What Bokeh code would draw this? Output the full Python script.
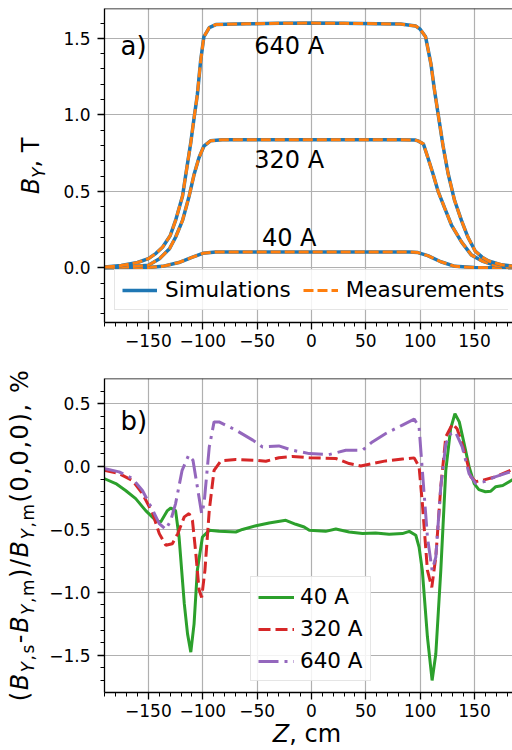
import math
from bokeh.plotting import figure
from bokeh.models import (Range1d, FixedTicker, CustomJSTickFormatter, Label,
                          Legend, LegendItem, Span, ColumnDataSource, Div)
from bokeh.layouts import column, row
from bokeh.embed import file_html
from bokeh.resources import INLINE
from bokeh.core.properties import value

# ---------------- data: panel a) ----------------
zt640 = [-190, -175, -160, -150, -143, -137, -130, -125, -118.6, -115.6, -111, -108, -105, -102, -99, -94, -88,
         -60, -30, 0, 30, 60, 82, 96, 100, 105, 110, 113, 116, 121, 125.6, 131.7, 138, 144, 150.6, 157, 163, 175, 187]
Bt640 = [0.005, 0.015, 0.035, 0.06, 0.095, 0.135, 0.21, 0.31, 0.47, 0.61, 0.82, 0.98, 1.13, 1.35, 1.51, 1.57, 1.59,
         1.595, 1.598, 1.60, 1.598, 1.596, 1.593, 1.58, 1.56, 1.51, 1.33, 1.17, 1.03, 0.80, 0.62, 0.44, 0.31, 0.2, 0.11,
         0.07, 0.045, 0.02, 0.01]
zt320 = [-190, -170, -150, -139.8, -130.6, -125, -118.6, -112.5, -108, -103.5, -99, -92.9, -82, -40, 0, 40, 80, 95,
         98, 103, 107.6, 112, 116.5, 122.6, 128.8, 138, 147, 157, 169.6, 187]
Bt320 = [0.002, 0.006, 0.017, 0.06, 0.125, 0.2, 0.31, 0.47, 0.61, 0.72, 0.795, 0.83, 0.837, 0.838, 0.838, 0.838,
         0.837, 0.836, 0.83, 0.81, 0.71, 0.61, 0.50, 0.39, 0.28, 0.17, 0.085, 0.045, 0.015, 0.005]
zt40 = [-190, -160, -150, -137, -122, -110, -100, -88, 0, 90, 98, 107, 119, 132, 150, 170, 187]
Bt40 = [0.0, 0.0, 0.002, 0.01, 0.035, 0.068, 0.095, 0.104, 0.104, 0.104, 0.10, 0.08, 0.04, 0.01, 0.002, 0.0, 0.0]

ann_x = [-20.5, -20.5, -20.5]
ann_y = [1.453, 0.702, 0.198]
ann_text = ["640 A", "320 A", "40 A"]

# ---------------- data: panel b) ----------------
z40 = [-190.8, -180, -171, -161.7, -152.5, -143, -138.7, -132.5, -129.4, -125, -121.8, -117, -114, -111, -108, -105,
       -100.3, -94, -85, -69.6, -63.5, -51, -39, -23.6, -14.4, -6.7, -2, 13, 22.4, 34.7, 47, 59, 71.5, 83.7, 90, 96,
       99, 102, 106.7, 111, 114.4, 119, 123.6, 128, 132, 136, 140.5, 145, 149.7, 154, 160, 165, 169.6, 176, 187]
d40 = [-0.095, -0.135, -0.19, -0.255, -0.35, -0.43, -0.44, -0.35, -0.33, -0.35, -0.56, -1.09, -1.33, -1.475, -1.25,
       -0.825, -0.56, -0.507, -0.515, -0.52, -0.50, -0.47, -0.448, -0.427, -0.459, -0.48, -0.507, -0.515, -0.496,
       -0.52, -0.533, -0.528, -0.538, -0.533, -0.515, -0.546, -0.64, -0.825, -1.355, -1.70, -1.49, -0.825, -0.03,
       0.30, 0.42, 0.355, 0.18, 0.0, -0.135, -0.183, -0.20, -0.196, -0.16, -0.15, -0.095]
z320 = [-190.8, -177, -164.7, -155.5, -146, -140, -134, -128, -123, -117, -112.6, -109.5, -106.4, -103.4, -101, -98,
        -94, -89.6, -83.4, -69.6, -51, -42, -30, -17.5, -2, 22.4, 34.7, 45.4, 56, 68.4, 83.7, 94.5, 99, 102, 106.7,
        110.7, 114.4, 119, 123.6, 129.8, 134, 140.5, 146.6, 151, 157, 169.6, 187]
d320 = [-0.03, -0.056, -0.11, -0.215, -0.374, -0.533, -0.626, -0.613, -0.533, -0.40, -0.374, -0.427, -0.69, -0.98,
        -1.04, -0.825, -0.347, -0.03, 0.045, 0.056, 0.05, 0.042, 0.07, 0.08, 0.07, 0.064, 0.024, 0.005, 0.024, 0.045,
        0.06, 0.069, 0.0, -0.29, -0.825, -0.96, -0.72, -0.16, 0.236, 0.34, 0.30, 0.13, -0.08, -0.12, -0.11, -0.08,
        -0.016]
z640 = [-190.8, -177, -164.7, -155.5, -146, -140, -134, -129.4, -125, -119, -113, -109, -105, -101, -98.8, -94,
        -89.6, -85, -69.6, -54, -45, -30, -17.5, -2, 16, 31.6, 47, 56, 68.4, 83.7, 94.5, 99, 102, 106.7, 111, 114.4,
        119, 123.6, 128, 132.5, 138.7, 145, 151, 158.9, 169.6, 187]
d640 = [-0.016, -0.042, -0.095, -0.19, -0.347, -0.454, -0.50, -0.427, -0.294, -0.03, 0.09, 0.05, -0.16, -0.374,
        -0.294, 0.156, 0.355, 0.355, 0.29, 0.21, 0.156, 0.164, 0.13, 0.103, 0.095, 0.13, 0.13, 0.196, 0.263, 0.33,
        0.377, 0.316, -0.03, -0.56, -0.825, -0.72, -0.16, 0.18, 0.26, 0.276, 0.156, -0.056, -0.135, -0.12, -0.08,
        -0.03]

x_major = [-150, -100, -50, 0, 50, 100, 150]
x_minor = list(range(-190, 191, 10))
ya_major = [0.0, 0.5, 1.0, 1.5]
ya_minor = [round(-0.3 + 0.1 * i, 2) for i in range(20)]
yb_major = [-1.5, -1.0, -0.5, 0.0, 0.5]
yb_minor = [round(-1.7 + 0.1 * i, 2) for i in range(24)]

# ---------------- layout constants (page pixels) ----------------
FONT = "DejaVu Sans"
XR = (-190.4, 186.8)
YA = (-0.357, 1.695)
YB = (-1.796, 0.70)
LDIV = 46           # width of the left label strip
FL = 102            # page x of the frames' left edge
FW = 410
FT1, FH1, BB1 = 8, 314, 56
FT2 = FT1 + FH1 + BB1
FH2, BB2 = 314, 34
XDIV_H = 750 - (FT2 + FH2 + BB2)


def panel_tag(p, text, fr, left_px, mid_px):
    x = fr['xr'][0] + (left_px - FL) / FW * (fr['xr'][1] - fr['xr'][0])
    y = fr['yr'][1] - (mid_px - fr['FT']) / fr['fh'] * (fr['yr'][1] - fr['yr'][0])
    p.add_layout(Label(x=x, y=y, text=text, text_align="left", text_baseline="middle",
                       text_font=FONT, text_font_size="26px", text_color="black"))


fmt_x = CustomJSTickFormatter(code="return (tick < 0 ? '\\u2212' : '') + Math.abs(tick).toFixed(0);")


def make_fig(yr, ft, fh, bb, ymaj, ymin):
    p = figure(frame_width=FW, frame_height=fh, x_range=Range1d(*XR), y_range=Range1d(*yr),
               output_backend="svg", toolbar_location=None, min_border_left=FL - LDIV,
               min_border_right=0, min_border_top=ft, min_border_bottom=bb)
    p.outline_line_color = None
    p.background_fill_color = "white"
    p.border_fill_color = "white"
    p.xaxis.ticker = FixedTicker(ticks=x_major, minor_ticks=x_minor)
    p.yaxis.ticker = FixedTicker(ticks=ymaj, minor_ticks=ymin)
    p.xaxis.formatter = fmt_x
    p.yaxis.formatter = CustomJSTickFormatter(
        code="return (tick < -1e-9 ? '\\u2212' : '') + Math.abs(tick).toFixed(1);")
    for ax in (p.xaxis, p.yaxis):
        ax.axis_line_color = "black"
        ax.axis_line_width = 1.3
        ax.major_tick_line_color = "black"
        ax.major_tick_line_width = 1.3
        ax.minor_tick_line_color = "black"
        ax.minor_tick_line_width = 1.0
        ax.major_tick_out = 7
        ax.major_tick_in = 0
        ax.minor_tick_out = 4
        ax.minor_tick_in = 0
        ax.major_label_text_font = FONT
        ax.major_label_text_font_size = "17px"
        ax.major_label_text_color = "black"
    p.xaxis.major_label_standoff = 4
    p.yaxis.major_label_standoff = 7
    p.grid.grid_line_color = "#b0b0b0"
    p.grid.grid_line_width = 1.2
    p.add_layout(Span(location=yr[1], dimension="width", line_color="black", line_width=1.5))
    return p


def style_legend(leg):
    leg.label_text_font = FONT
    leg.label_text_font_size = "21.5px"
    leg.label_text_color = "black"
    leg.margin = 0
    leg.border_line_color = "#cccccc"
    leg.border_line_width = 1.3
    leg.background_fill_alpha = 0.85


# ---------------- panel a ----------------
pa = make_fig(YA, FT1, FH1, BB1, ya_major, ya_minor)
sims = []
meas = []
for z, b in ((zt40, Bt40), (zt320, Bt320), (zt640, Bt640)):
    src = ColumnDataSource(dict(z=z, b=b))
    sims.append(pa.line("z", "b", source=src, line_color="#1f77b4", line_width=3.5))
    meas.append(pa.line("z", "b", source=src, line_color="#ff7f0e", line_width=3.0, line_dash="10 4"))

pa.text(x="x", y="y", text="t", source=ColumnDataSource(dict(x=ann_x, y=ann_y, t=ann_text)),
        text_font=value(FONT), text_font_size="24px", text_align="center", text_baseline="middle",
        text_color="black")

leg_a = Legend(items=[LegendItem(label="Simulations", renderers=[sims[-1]]),
                      LegendItem(label="Measurements", renderers=[meas[-1]])],
               orientation="horizontal", location=(20, 12))
style_legend(leg_a)
leg_a.glyph_width = 35
leg_a.glyph_height = 22
leg_a.label_height = 22
leg_a.label_standoff = 8
leg_a.spacing = 12
leg_a.padding = 7
pa.add_layout(leg_a)

fra = dict(FT=FT1, fh=FH1, xr=XR, yr=YA)
panel_tag(pa, "a)", fra, 118, 45)

# ---------------- panel b ----------------
pb = make_fig(YB, 0, FH2, BB2, yb_major, yb_minor)
r40 = pb.line(z40, d40, line_color="#2ca02c", line_width=3)
r320 = pb.line(z320, d320, line_color="#d62728", line_width=3, line_dash="12 5")
r640 = pb.line(z640, d640, line_color="#9467bd", line_width=3, line_dash="20 6 3 6")

leg_b = Legend(items=[LegendItem(label="40 A", renderers=[r40]),
                      LegendItem(label="320 A", renderers=[r320]),
                      LegendItem(label="640 A", renderers=[r640])],
               orientation="vertical", location=(146, 11))
style_legend(leg_b)
leg_b.glyph_width = 36
leg_b.glyph_height = 24
leg_b.label_height = 24
leg_b.label_standoff = 6
leg_b.spacing = 7
leg_b.padding = 7
pb.add_layout(leg_b)

frb = dict(FT=FT2, fh=FH2, xr=XR, yr=YB)
panel_tag(pb, "b)", frb, 118, 420)

# ---------------- axis titles (HTML, for sub-scripts) ----------------
ROT = ("position:absolute;left:{cx}px;top:{cy}px;transform:translate(-50%,-50%) rotate(-90deg);"
       "white-space:nowrap;font-family:'DejaVu Sans';font-size:24px;line-height:24px;color:#000;{extra}")
SUB = "<span style=\"font-size:16.8px;position:relative;top:6px;\">{}</span>"
ylab_a = "<i>B</i>" + SUB.format("<i>Y</i>") + ", T"
ylab_b = ("(<i>B</i>" + SUB.format("<i>Y</i>,s") + "-<i>B</i>" + SUB.format("<i>Y</i>,m") + ")/<i>B</i>"
          + SUB.format("<i>Y</i>,m") + "(0,0,0), %")
left_html = (
    f"<div style=\"position:relative;width:{LDIV}px;height:750px;\">"
    f"<div style=\"{ROT.format(cx=32, cy=166, extra='')}\">{ylab_a}</div>"
    f"<div style=\"{ROT.format(cx=20.5, cy=535, extra='letter-spacing:1.6px;')}\">{ylab_b}</div>"
    "</div>")
ldiv = Div(text=left_html, width=LDIV, height=750, margin=0)

xcx = (FL + FW / 2) - LDIV
x_html = (f"<div style=\"position:relative;width:{512 - LDIV}px;height:{XDIV_H}px;\">"
          f"<div style=\"position:absolute;left:{xcx}px;top:{XDIV_H - 28}px;transform:translateX(-50%);"
          "white-space:nowrap;font-family:'DejaVu Sans';font-size:24px;line-height:24px;color:#000;\">"
          "<i>Z</i>, cm</div></div>")
xdiv = Div(text=x_html, width=512 - LDIV, height=XDIV_H, margin=0)

layout = row(ldiv, column(pa, pb, xdiv, spacing=0), spacing=0)
with open("out.html", "w", encoding="utf-8") as f:
    f.write(file_html(layout, INLINE))
